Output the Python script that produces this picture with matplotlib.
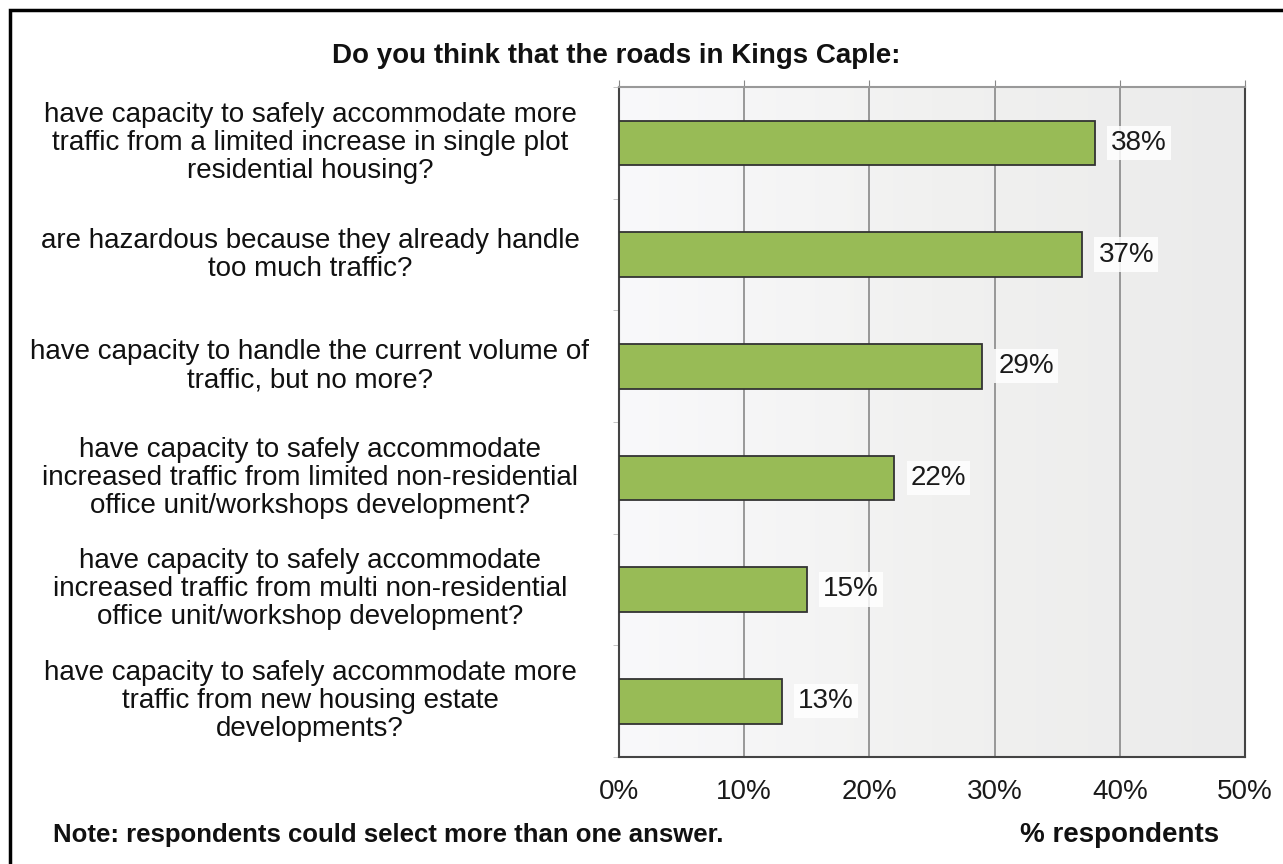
import numpy as np
import matplotlib
matplotlib.use("Agg")
import matplotlib.pyplot as plt
import matplotlib.transforms as mtransforms
from matplotlib.patches import Rectangle

# survey answers, top to bottom
questions = [
    "have capacity to safely accommodate more\ntraffic from a limited increase in single plot\nresidential housing?",
    "are hazardous because they already handle\ntoo much traffic?",
    "have capacity to handle the current volume of\ntraffic, but no more?",
    "have capacity to safely accommodate\nincreased traffic from limited non-residential\noffice unit/workshops development?",
    "have capacity to safely accommodate\nincreased traffic from multi non-residential\noffice unit/workshop development?",
    "have capacity to safely accommodate more\ntraffic from new housing estate\ndevelopments?",
]
percent = [38, 37, 29, 22, 15, 13]
x_ticks = [0, 10, 20, 30, 40, 50]
x_tick_labels = ["0%", "10%", "20%", "30%", "40%", "50%"]

plt.rcParams["font.family"] = ["Liberation Sans", "DejaVu Sans"]

W, H = 1283, 864
fig = plt.figure(figsize=(W / 100, H / 100), dpi=100)
fig.patch.set_facecolor("white")

ax = fig.add_axes([619 / W, 1 - 757 / H, (1245 - 619) / W, (757 - 87) / H])

# soft left-to-right shading of the plot area
shade = np.linspace(0, 1, 256).reshape(1, -1)
ax.imshow(shade, extent=[0, 1, 0, 1], transform=ax.transAxes, aspect="auto",
          cmap=matplotlib.colors.LinearSegmentedColormap.from_list(
              "bg", ["#f9f9fb", "#f1f1f0", "#ebebeb"]),
          zorder=0, interpolation="bilinear")

y = np.arange(len(questions))
ax.barh(y, percent, height=0.4, color="#98bb56", edgecolor="#333333",
        linewidth=1.3, zorder=3)

for yi, v in zip(y, percent):
    ax.text(v + 1.3, yi, f"{v}%", va="center", ha="left", fontsize=20,
            color="#1a1a1a", zorder=4,
            bbox=dict(boxstyle="square,pad=0.15", fc="white", ec="none", alpha=0.85))

ax.set_xlim(0, 50)
ax.set_ylim(len(questions) - 0.5, -0.5)

ax.set_xticks(x_ticks)
ax.set_xticklabels(x_tick_labels, fontsize=20, color="#1a1a1a")
ax.tick_params(axis="x", bottom=False, top=True, labelbottom=True,
               labeltop=False, length=5, color="#888888", pad=11)
ax.set_yticks([])
ax.set_yticks(np.arange(-0.5, len(questions), 1), minor=True)
ax.tick_params(axis="y", which="minor", length=4, color="#bbbbbb")
ax.xaxis.grid(True, color="#888888", linewidth=1.2, zorder=1)
ax.set_axisbelow(True)

for side in ("left", "bottom", "right"):
    ax.spines[side].set_color("#444444")
    ax.spines[side].set_linewidth(1.5)
ax.spines["top"].set_color("#999999")
ax.spines["top"].set_linewidth(1.5)

# question labels centred in the left-hand column
label_tf = mtransforms.blended_transform_factory(fig.transFigure, ax.transData)
for yi, q in zip(y, questions):
    ax.text(310 / W, yi, q, transform=label_tf, ha="center", va="center",
            multialignment="center", fontsize=20, color="#111111",
            linespacing=1.1)

ax.set_xlabel("% respondents", fontsize=20, fontweight="bold", color="#111111")
ax.xaxis.set_label_coords((1120 - 619) / (1245 - 619), (757 - 835) / (757 - 87))
ax.xaxis.label.set_va("center")

fig.text(616 / W, 1 - 56 / H, "Do you think that the roads in Kings Caple:",
         ha="center", va="center", fontsize=20, fontweight="bold", color="#111111")
fig.text(53 / W, 1 - 835 / H, "Note: respondents could select more than one answer.",
         ha="left", va="center", fontsize=18.5, fontweight="bold", color="#111111")

# frame line along the top and left edge
fig.add_artist(Rectangle((10 / W, -0.2), 1.5, 1 - 10 / H + 0.2,
                         transform=fig.transFigure, fill=False,
                         edgecolor="black", linewidth=2.5))

fig.savefig("out.png", dpi=100)
